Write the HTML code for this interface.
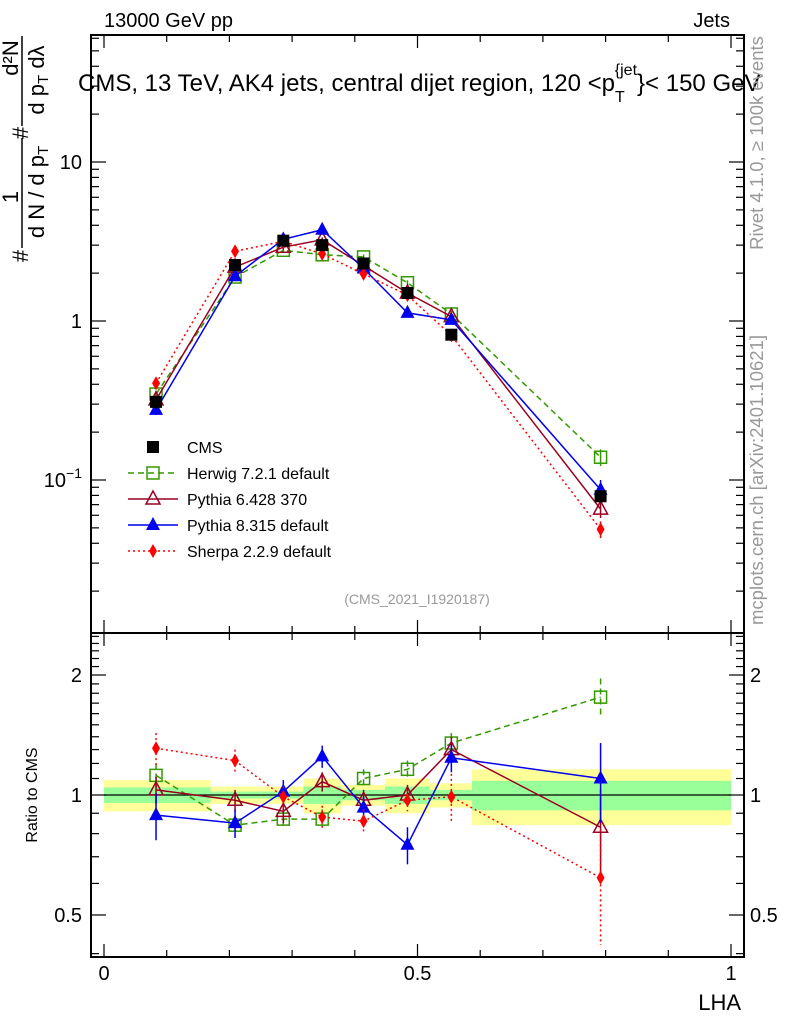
<!DOCTYPE html>
<html><head><meta charset="utf-8"><style>
body{margin:0;background:#fff;}
svg{font-family:"Liberation Sans",sans-serif;}
</style></head><body>
<svg id="c" width="786" height="1024" xmlns="http://www.w3.org/2000/svg"></svg>
<script>
const xCenters=[0.083,0.209,0.286,0.348,0.414,0.484,0.554,0.792];
const binEdges=[0,0.17,0.25,0.318,0.378,0.448,0.519,0.587,1.0];
const cmsValues=[0.31,2.25,3.2,3.0,2.3,1.5,0.82,0.079];
const cmsErrors=[0.03,0.15,0.2,0.2,0.15,0.1,0.06,0.006];
const herwigRatio=[1.12,0.84,0.87,0.87,1.10,1.16,1.35,1.76];
const pythia6Ratio=[1.03,0.97,0.91,1.08,0.97,1.0,1.30,0.83];
const pythia8Ratio=[0.89,0.85,1.02,1.25,0.93,0.75,1.24,1.10];
const sherpaRatio=[1.31,1.22,0.99,0.88,0.86,0.97,0.99,0.62];
const herwigErr=[0.08,0.05,0.05,0.05,0.06,0.06,0.08,0.2];
const pythia6Err=[0.08,0.06,0.06,0.06,0.06,0.06,0.1,0.2];
const pythia8Err=[0.12,0.07,0.07,0.08,0.06,0.08,0.1,0.25];
const sherpaErr=[0.12,0.08,0.06,0.06,0.06,0.06,0.14,0.2];
const yellowHalf=[0.09,0.05,0.05,0.10,0.06,0.10,0.07,0.16];
const greenHalf=[0.045,0.02,0.02,0.05,0.03,0.05,0.03,0.085];
const mainTicks=[0.1,1,10];
const ratioTicks=[0.5,1,2];
const xTicks=[0,0.5,1];

const svg=document.getElementById('c');
const NS='http://www.w3.org/2000/svg';
function el(t,a,p){const e=document.createElementNS(NS,t);for(const k in a)e.setAttribute(k,a[k]);(p||svg).appendChild(e);return e;}
const L=91,R=744,T=35,MB=633,RB=957;
const X=v=>104+v*627;
const Y=v=>321-159*Math.log10(v);
const YR=v=>795-398.6*Math.log10(v);

binEdges.slice(0,-1).forEach((e,i)=>{
 const r=el('rect',{x:X(e),y:YR(1+yellowHalf[i]),width:X(binEdges[i+1])-X(e),height:YR(1-yellowHalf[i])-YR(1+yellowHalf[i]),fill:'#ffff99'});
 
 const g=el('rect',{x:X(e),y:YR(1+greenHalf[i]),width:X(binEdges[i+1])-X(e),height:YR(1-greenHalf[i])-YR(1+greenHalf[i]),fill:'#99ff99'});
 
});
el('line',{x1:X(0),x2:X(1),y1:YR(1),y2:YR(1),stroke:'#000','stroke-width':1.2});

[[T,MB],[MB,RB]].forEach(([a,b])=>el('rect',{x:L,y:a,width:R-L,height:b-a,fill:'none',stroke:'#000','stroke-width':2}));
for(let k=0;k<=10;k++){const v=k/10,x=X(v),len=(k%5==0)?13:7;
 [[T,1],[MB,-1],[MB,1],[RB,-1]].forEach(([y,d])=>el('line',{x1:x,x2:x,y1:y,y2:y+d*len,stroke:'#000','stroke-width':1.2}));}
xTicks.forEach(v=>{const t=el('text',{x:X(v),y:980,'font-size':20,'text-anchor':'middle'});t.textContent=String(v);
 });
for(let d=-2;d<=1;d++)for(let m=1;m<10;m++){const v=m*Math.pow(10,d),y=Y(v);if(y<T||y>MB)continue;const len=m==1?15:8;
 el('line',{x1:L,x2:L+len,y1:y,y2:y,stroke:'#000','stroke-width':1.2});el('line',{x1:R,x2:R-len,y1:y,y2:y,stroke:'#000','stroke-width':1.2});}
mainTicks.forEach(v=>{const y=Y(v);const t=el('text',{x:82,y:y+7,'font-size':20,'text-anchor':'end'});
 if(v==0.1){t.innerHTML='10<tspan dy="-9" font-size="14">−1</tspan>';}else t.textContent=String(v);
 });
[0.4,0.5,0.6,0.7,0.8,0.9,1,1.1,1.2,1.3,1.4,1.5,1.6,1.7,1.8,1.9,2,2.1,2.2,2.3,2.4,2.5].forEach(v=>{const y=YR(v);if(y<MB||y>RB)return;
 const len=(v==0.5||v==1||v==2)?15:8;
 el('line',{x1:L,x2:L+len,y1:y,y2:y,stroke:'#000','stroke-width':1.2});el('line',{x1:R,x2:R-len,y1:y,y2:y,stroke:'#000','stroke-width':1.2});});
ratioTicks.forEach(v=>{const y=YR(v);[[82,'end'],[750,'start']].forEach(([x,a])=>{const t=el('text',{x:x,y:y+7,'font-size':20,'text-anchor':a});t.textContent=String(v);
 });});

const series=[
 {name:'herwig',r:herwigRatio,e:herwigErr,c:'#339900',dash:'6,4',m:'sqo',lab:'Herwig 7.2.1 default'},
 {name:'pythia6',r:pythia6Ratio,e:pythia6Err,c:'#990022',dash:'',m:'trio',lab:'Pythia 6.428 370'},
 {name:'pythia8',r:pythia8Ratio,e:pythia8Err,c:'#0000ee',dash:'',m:'tri',lab:'Pythia 8.315 default'},
 {name:'sherpa',r:sherpaRatio,e:sherpaErr,c:'#ff0000',dash:'2,3',m:'dia',lab:'Sherpa 2.2.9 default'}];
function marker(type,x,y,c,nm){let e;
 if(type=='sqo')e=el('rect',{x:x-6,y:y-6,width:12,height:12,fill:'#fff','fill-opacity':0,stroke:c,'stroke-width':1.5});
 else if(type=='sq')e=el('rect',{x:x-6,y:y-6,width:12,height:12,fill:c});
 else if(type=='trio')e=el('path',{d:`M${x},${y-8}L${x+7},${y+5}L${x-7},${y+5}Z`,fill:'none',stroke:c,'stroke-width':1.5});
 else if(type=='tri')e=el('path',{d:`M${x},${y-8}L${x+7},${y+5}L${x-7},${y+5}Z`,fill:c});
 else e=el('path',{d:`M${x},${y-7}L${x+4},${y}L${x},${y+7}L${x-4},${y}Z`,fill:c});
 }
series.forEach(s=>{
 const mainPts=xCenters.map((v,i)=>[X(v),Y(cmsValues[i]*s.r[i])]);
 const ratPts=xCenters.map((v,i)=>[X(v),YR(s.r[i])]);
 [[mainPts,'main'],[ratPts,'ratio']].forEach(([p,w])=>{
  const l=el('polyline',{points:p.map(q=>q.join(',')).join(' '),fill:'none',stroke:s.c,'stroke-width':1.5,'stroke-dasharray':s.dash});
  });
 xCenters.forEach((v,i)=>{const x=X(v);
  const hi=YR(s.r[i]+s.e[i]),lo=YR(s.r[i]-s.e[i]);
  el('line',{x1:x,x2:x,y1:hi,y2:lo,stroke:s.c,'stroke-width':1.5,'stroke-dasharray':s.dash});
  const mv=cmsValues[i]*s.r[i];
  el('line',{x1:x,x2:x,y1:Y(mv*(1+s.e[i]*0.6)),y2:Y(mv*(1-s.e[i]*0.6)),stroke:s.c,'stroke-width':1.5});
  marker(s.m,x,Y(mv),s.c,s.name+'-main-point');marker(s.m,x,YR(s.r[i]),s.c,s.name+'-ratio-point');});
});
xCenters.forEach((v,i)=>{const x=X(v);
 el('line',{x1:x,x2:x,y1:Y(cmsValues[i]+cmsErrors[i]),y2:Y(cmsValues[i]-cmsErrors[i]),stroke:'#000','stroke-width':1.5});
 marker('sq',x,Y(cmsValues[i]),'#000','cms-point');});

const lg=[{m:'sq',c:'#000',lab:'CMS',dash:null}].concat(series);
lg.forEach((s,i)=>{const y=447+i*26;
 if(s.dash!==null)el('line',{x1:128,x2:178,y1:y,y2:y,stroke:s.c,'stroke-width':1.5,'stroke-dasharray':s.dash});
 marker(s.m,153,y,s.c,'legend-marker');
 const t=el('text',{x:187,y:y+6,'font-size':16});t.textContent=s.lab;
 });

function txt(x,y,s,size,extra,name){const t=el('text',Object.assign({x:x,y:y,'font-size':size},extra||{}));t.innerHTML=s;
 return t;}
txt(104,27,'13000 GeV pp',20,{},'energy-label');
txt(730,27,'Jets',20,{'text-anchor':'end'},'jets-label');
txt(78,91,'CMS, 13 TeV, AK4 jets, central dijet region, 120 &lt;p<tspan dy="11" font-size="16">T</tspan><tspan dy="-27" font-size="16" dx="-10">{jet</tspan><tspan dy="16">}&lt; 150 GeV</tspan>',24,{},'plot-title');
txt(417,604,'(CMS_2021_I1920187)',14,{fill:'#999','text-anchor':'middle'},'analysis-id');
txt(741,1010,'LHA',22,{'text-anchor':'end'},'x-axis-title');
txt(0,0,'Ratio to CMS',16,{'text-anchor':'middle',transform:'translate(37,795) rotate(-90)'},'ratio-axis-title');
// y-axis title pieces
txt(0,0,'#',22,{'text-anchor':'middle',transform:'translate(28,256) rotate(-90)'},'y-title-hash1');
txt(0,0,'1',22,{'text-anchor':'middle',transform:'translate(18,197) rotate(-90)'},'y-title-one');
el('line',{x1:22,x2:22,y1:248,y2:138,stroke:'#000','stroke-width':1.5});
txt(0,0,'d N / d p<tspan dy="4" font-size="15">T</tspan>',22,{'text-anchor':'middle',transform:'translate(44,192) rotate(-90)'},'y-title-denominator1');
txt(0,0,'#',22,{'text-anchor':'middle',transform:'translate(28,133) rotate(-90)'},'y-title-hash2');
el('line',{x1:22,x2:22,y1:126,y2:36,stroke:'#000','stroke-width':1.5});
txt(0,0,'d²N',22,{'text-anchor':'middle',transform:'translate(18,58) rotate(-90)'},'y-title-numerator2');
txt(0,0,'d p<tspan dy="4" font-size="15">T</tspan><tspan dy="-4"> dλ</tspan>',22,{'text-anchor':'middle',transform:'translate(44,80) rotate(-90)'},'y-title-denominator2');
txt(0,0,'Rivet 4.1.0, ≥ 100k events',18.5,{fill:'#999','text-anchor':'middle',transform:'translate(763,143) rotate(-90)'},'rivet-version');
txt(0,0,'mcplots.cern.ch [arXiv:2401.10621]',18.5,{fill:'#999','text-anchor':'middle',transform:'translate(763,480) rotate(-90)'},'mcplots-credit');
</script>
</body></html>
